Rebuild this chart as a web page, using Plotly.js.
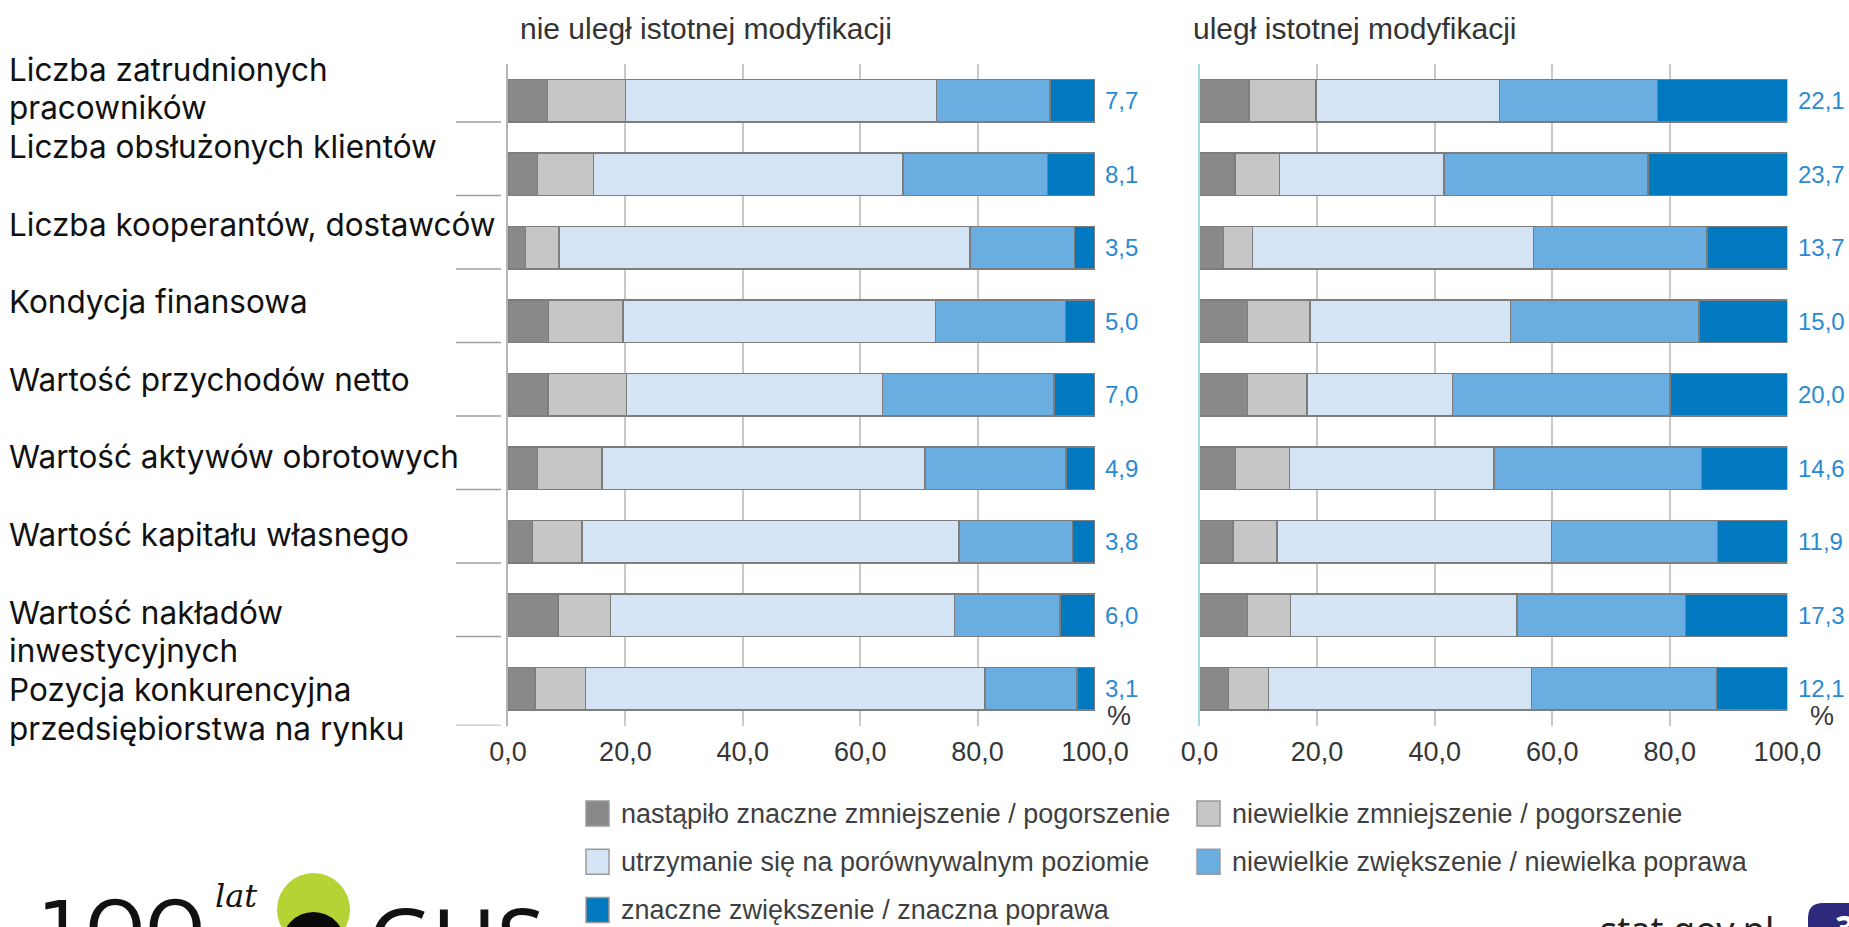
<!DOCTYPE html>
<html>
<head>
<meta charset="utf-8">
<script src="https://cdn.plot.ly/plotly-3.0.1.min.js"></script>
<style>
html,body{margin:0;padding:0;background:#ffffff;}
#chart{width:1849px;height:927px;}
</style>
</head>
<body>
<div id="chart"></div>
<script>
// ---------- DATA ----------
const categories = [
  "Liczba zatrudnionych<br>pracowników",
  "Liczba obsłużonych klientów",
  "Liczba kooperantów, dostawców",
  "Kondycja finansowa",
  "Wartość przychodów netto",
  "Wartość aktywów obrotowych",
  "Wartość kapitału własnego",
  "Wartość nakładów<br>inwestycyjnych",
  "Pozycja konkurencyjna<br>przedsiębiorstwa na rynku"
];

const seriesNames = [
  "nastąpiło znaczne zmniejszenie / pogorszenie",
  "niewielkie zmniejszenie / pogorszenie",
  "utrzymanie się na porównywalnym poziomie",
  "niewielkie zwiększenie / niewielka poprawa",
  "znaczne zwiększenie / znaczna poprawa"
];

const panelTitles = ["nie uległ istotnej modyfikacji", "uległ istotnej modyfikacji"];

// panel 1: nie uległ istotnej modyfikacji
const leftDecreaseStrong = [6.7, 5.0, 3.0, 6.9, 6.8, 5.0, 4.2, 8.5, 4.6];
const leftDecreaseSlight = [13.3, 9.6, 5.7, 12.7, 13.4, 11.0, 8.4, 9.0, 8.6];
const leftSame           = [53.0, 52.7, 70.0, 53.2, 43.6, 55.0, 64.2, 58.6, 68.1];
const leftIncreaseSlight = [19.3, 24.6, 17.8, 22.2, 29.2, 24.1, 19.4, 17.9, 15.6];
const leftIncreaseStrong = [7.7, 8.1, 3.5, 5.0, 7.0, 4.9, 3.8, 6.0, 3.1];

// panel 2: uległ istotnej modyfikacji
const rightDecreaseStrong = [8.4, 6.0, 4.1, 8.2, 8.2, 6.1, 5.7, 8.2, 4.9];
const rightDecreaseSlight = [11.4, 7.6, 4.9, 10.6, 10.1, 9.2, 7.5, 7.3, 6.8];
const rightSame           = [31.2, 28.0, 47.8, 34.1, 24.7, 34.8, 46.7, 38.5, 44.8];
const rightIncreaseSlight = [26.9, 34.7, 29.5, 32.1, 37.0, 35.3, 28.2, 28.7, 31.4];
const rightIncreaseStrong = [22.1, 23.7, 13.7, 15.0, 20.0, 14.6, 11.9, 17.3, 12.1];

const xTickValues = [0, 20, 40, 60, 80, 100];

// ---------- STYLE / LAYOUT ----------
const W = 1849, H = 927;
const px = x => x / W;
const py = y => 1 - y / H;

const seriesColors = ["#898989", "#c6c6c6", "#d4e4f5", "#6aade0", "#0079c1"];
const outline = "#7d7d7d";
const BAR_W = 0.58;
const chartFont = "Liberation Sans, Arial, sans-serif";
const labelFont = "Inter, Noto Sans, sans-serif";
const footFont = "Noto Sans, Open Sans, sans-serif";

const leftSeries = [leftDecreaseStrong, leftDecreaseSlight, leftSame, leftIncreaseSlight, leftIncreaseStrong];
const rightSeries = [rightDecreaseStrong, rightDecreaseSlight, rightSame, rightIncreaseSlight, rightIncreaseStrong];

const traces = [];
function addPanel(series, xa, ya) {
  series.forEach((vals, k) => {
    traces.push({
      type: "bar", orientation: "h",
      x: vals, y: categories,
      xaxis: xa, yaxis: ya,
      name: seriesNames[k],
      width: BAR_W,
      marker: { color: seriesColors[k], line: { color: outline, width: 1.5 } },
      showlegend: false,
      hovertemplate: "%{y}: %{x:.1f}<extra>" + seriesNames[k] + "</extra>"
    });
  });
}
addPanel(leftSeries, "x", "y");
addPanel(rightSeries, "x2", "y2");

const plotTop = 64, plotBottom = 725.5;
const yDomain = [py(plotBottom), py(plotTop)];

function xAxis(domain, anchor) {
  return {
    domain: domain, anchor: anchor, range: [0, 100],
    tickvals: xTickValues, tickformat: ".1f",
    showgrid: true, gridcolor: "#c9c9c9", gridwidth: 1.5,
    zeroline: false, showline: false,
    ticks: "outside", ticklen: 2, tickcolor: "rgba(0,0,0,0)",
    tickfont: { family: chartFont, size: 27, color: "#363636" },
    fixedrange: true
  };
}
function yAxis(anchor, lineColor) {
  return {
    domain: yDomain, anchor: anchor, type: "category",
    categoryarray: categories, range: [categories.length - 0.5, -0.5],
    showticklabels: false, ticks: "", showgrid: false, zeroline: false,
    showline: true, linecolor: lineColor, linewidth: 1.5, fixedrange: true
  };
}

const fmt = v => v.toFixed(1).replace(".", ",");
const annotations = [];
const shapes = [];

// panel titles
[[panelTitles[0], 518], [panelTitles[1], 1191]].forEach(([t, x]) => {
  annotations.push({
    xref: "paper", yref: "paper", x: px(x), y: py(28),
    xanchor: "left", yanchor: "middle", showarrow: false, text: t,
    font: { family: chartFont, size: 30, color: "#333333" }
  });
});

// category labels on the left (one annotation per text line, tight line spacing)
const LABEL_FIRST = 69, LABEL_STEP = 77.6, LABEL_LINE = 38.5;
categories.forEach((c, i) => {
  c.split("<br>").forEach((line, j) => {
    annotations.push({
      xref: "paper", yref: "paper", x: px(8), y: py(LABEL_FIRST + LABEL_STEP * i + LABEL_LINE * j),
      xanchor: "left", yanchor: "middle", align: "left",
      borderpad: 0, showarrow: false, text: line,
      font: { family: labelFont, size: 31.5, color: "#111111" }
    });
  });
  // short separator line at the bar bottom
  const yy = (i === categories.length - 1) ? categories.length - 0.5 : i + BAR_W / 2;
  shapes.push({
    type: "line", xref: "paper", yref: "y", x0: px(456), x1: px(501), y0: yy, y1: yy,
    line: { color: "#a0a0a0", width: 1.5 }
  });
});

// value labels (last segment) right of each panel
[[leftIncreaseStrong, "x", "y", 8], [rightIncreaseStrong, "x2", "y2", 9]].forEach(([vals, xr, yr, sh]) => {
  vals.forEach((v, i) => {
    annotations.push({
      xref: xr, yref: yr, x: 100, y: categories[i], xanchor: "left", yanchor: "middle",
      xshift: sh, showarrow: false, text: fmt(v),
      font: { family: chartFont, size: 24, color: "#2a8ad2" }
    });
  });
  annotations.push({
    xref: xr, yref: "paper", x: 100, y: py(plotBottom), xanchor: "left", yanchor: "bottom",
    xshift: sh + 2 + (xr === "x2" ? 10 : 0), yshift: -7, showarrow: false, text: "%",
    font: { family: chartFont, size: 27, color: "#3a3a3a" }
  });
});

// legend (manual, two columns)
const legendColX = [586, 1197];
const legendRowY0 = 813.5, legendRowStep = 48.3;
seriesNames.forEach((n, k) => {
  const col = k % 2, row = Math.floor(k / 2);
  const yc = legendRowY0 + legendRowStep * row;
  const x0 = legendColX[col];
  shapes.push({
    type: "rect", xref: "paper", yref: "paper",
    x0: px(x0), x1: px(x0 + 23), y0: py(yc + 12.5), y1: py(yc - 12.5),
    fillcolor: seriesColors[k], line: { color: "#9a9a9a", width: 1.5 }
  });
  annotations.push({
    xref: "paper", yref: "paper", x: px(x0 + 33), y: py(yc),
    xanchor: "left", yanchor: "middle", showarrow: false, text: n,
    font: { family: chartFont, size: 27, color: "#3f3f3f" }
  });
});

// footer decorations (logo, site, page badge)
shapes.push({ type: "circle", xref: "paper", yref: "paper",
  x0: px(277), x1: px(350), y0: py(946), y1: py(873),
  fillcolor: "#b5d334", line: { width: 0 } });
shapes.push({ type: "circle", xref: "paper", yref: "paper",
  x0: px(281), x1: px(346), y0: py(980), y1: py(912),
  fillcolor: "#0a0a0a", line: { width: 0 } });
annotations.push({ xref: "paper", yref: "paper", x: px(36), y: py(884), xanchor: "left", yanchor: "top",
  borderpad: 0, showarrow: false, text: "1OO", font: { family: "DejaVu Sans, sans-serif", size: 76, color: "#111" } });
annotations.push({ xref: "paper", yref: "paper", x: px(214), y: py(876), xanchor: "left", yanchor: "top",
  borderpad: 0, showarrow: false, text: "<i>lat</i>", font: { family: "DejaVu Serif, serif", size: 32, color: "#111" } });
annotations.push({ xref: "paper", yref: "paper", x: px(366), y: py(876), xanchor: "left", yanchor: "top",
  showarrow: false, text: "GUS", font: { family: footFont, size: 88, color: "#111" } });
annotations.push({ xref: "paper", yref: "paper", x: px(1598), y: py(903), xanchor: "left", yanchor: "top",
  showarrow: false, text: "stat.gov.pl", font: { family: footFont, size: 36, color: "#222" } });
shapes.push({ type: "path", xref: "paper", yref: "paper",
  path: `M ${px(1808)} ${py(960)} L ${px(1808)} ${py(918)} Q ${px(1808)} ${py(903)} ${px(1823)} ${py(903)} L ${px(1880)} ${py(903)} L ${px(1880)} ${py(960)} Z`,
  fillcolor: "#2d2a7c", line: { width: 0 } });
annotations.push({ xref: "paper", yref: "paper", x: px(1833), y: py(902), xanchor: "left", yanchor: "top",
  showarrow: false, text: "<b>3</b>", font: { family: footFont, size: 34, color: "#ffffff" } });

const layout = {
  width: W, height: H,
  margin: { l: 0, r: 0, t: 0, b: 0, pad: 0 },
  paper_bgcolor: "#ffffff", plot_bgcolor: "#ffffff",
  barmode: "stack", bargap: 0.42,
  separators: ", ",
  showlegend: false,
  xaxis: xAxis([px(508), px(1095)], "y"),
  yaxis: yAxis("x", "#b5b5b5"),
  xaxis2: xAxis([px(1199.5), px(1787.4)], "y2"),
  yaxis2: yAxis("x2", "#a6dbe3"),
  annotations: annotations,
  shapes: shapes
};

Plotly.newPlot("chart", traces, layout, { displayModeBar: false });
</script>
</body>
</html>
